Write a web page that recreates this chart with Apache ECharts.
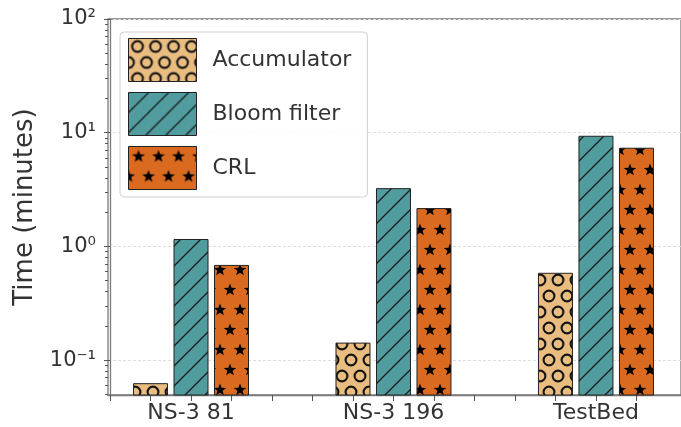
<!DOCTYPE html>
<html>
<head>
<meta charset="utf-8">
<script src="https://cdn.jsdelivr.net/npm/echarts@6/dist/echarts.min.js"></script>
<style>
html,body{margin:0;padding:0;background:#fff;}
#chart{width:681px;height:427px;}
</style>
</head>
<body>
<div id="chart"></div>
<script>
// ---- data ----
const categories = ['NS-3 81', 'NS-3 196', 'TestBed'];
const seriesNames = ['Accumulator', 'Bloom filter', 'CRL'];
const accumulator = [0.062, 0.141, 0.58];
const bloomFilter = [1.15, 3.22, 9.3];
const crl = [0.68, 2.15, 7.3];
const yTickValues = [0.1, 1, 10, 100];
const yMin = 0.0493, yMax = 100;

// ---- patterns ----
function tile(w, h, bg, draw) {
  const c = document.createElement('canvas');
  c.width = w; c.height = h;
  const ctx = c.getContext('2d');
  ctx.fillStyle = bg; ctx.fillRect(0, 0, w, h);
  draw(ctx, w, h);
  return c;
}
function ringTile(bg) {
  return tile(18, 32, bg, (ctx) => {
    ctx.strokeStyle = '#141414'; ctx.lineWidth = 2.1;
    [[9, 8], [0, 24], [18, 24]].forEach(([x, y]) => {
      ctx.beginPath(); ctx.arc(x, y, 5.4, 0, Math.PI * 2); ctx.stroke();
    });
  });
}
function hatchTile(bg) {
  return tile(20, 20, bg, (ctx, w, h) => {
    ctx.strokeStyle = '#1a1a1a'; ctx.lineWidth = 1.3;
    ctx.beginPath();
    ctx.moveTo(-2, h + 2); ctx.lineTo(w + 2, -2);
    ctx.moveTo(-2, 2); ctx.lineTo(2, -2);
    ctx.moveTo(w - 2, h + 2); ctx.lineTo(w + 2, h - 2);
    ctx.stroke();
  });
}
function starTile(bg) {
  return tile(20, 40, bg, (ctx) => {
    ctx.fillStyle = '#000';
    const R = 6.6, r = 2.7;
    [[10, 10], [0, 30], [20, 30]].forEach(([cx, cy]) => {
      ctx.beginPath();
      for (let i = 0; i < 10; i++) {
        const rad = i % 2 === 0 ? R : r;
        const a = -Math.PI / 2 + i * Math.PI / 5;
        const px = cx + rad * Math.cos(a), py = cy + rad * Math.sin(a);
        if (i === 0) ctx.moveTo(px, py); else ctx.lineTo(px, py);
      }
      ctx.closePath(); ctx.fill();
    });
  });
}
const fills = [
  { image: ringTile('#e9bc80'), repeat: 'repeat' },
  { image: hatchTile('#519c9f'), repeat: 'repeat' },
  { image: starTile('#da6a1f'), repeat: 'repeat' }
];

const values = [accumulator, bloomFilter, crl];
const minorTicks = [];
[0.01, 0.1, 1, 10].forEach(d => { for (let k = 2; k <= 9; k++) minorTicks.push(+(d * k).toPrecision(3)); });

const supMap = { '-': '\u207B', '0': '\u2070', '1': '\u00B9', '2': '\u00B2', '3': '\u00B3' };
function sup(n) { return String(n).split('').map(c => supMap[c] || c).join(''); }

const FONT = 'DejaVu Sans';
const BAR_W = 34;
const xPos = (gi, si) => gi * 5 + 1 + si;

// bars drawn from the axis minimum up to the value, through the axis scales
const series = seriesNames.map((name, si) => ({
  name, type: 'custom',
  itemStyle: { color: fills[si], borderColor: '#222', borderWidth: 1 },
  encode: { x: 0, y: 1 },
  data: values[si].map((v, gi) => [xPos(gi, si), v]),
  renderItem: (params, api) => {
    const x = api.value(0), v = api.value(1);
    const top = api.coord([x, v]);
    const bot = api.coord([x, yMin]);
    return {
      type: 'rect',
      shape: { x: top[0] - BAR_W / 2, y: top[1], width: BAR_W, height: bot[1] - top[1] },
      style: { fill: fills[si], stroke: '#222', lineWidth: 1 }
    };
  }
}));

const chart = echarts.init(document.getElementById('chart'), null, { renderer: 'canvas' });
chart.setOption({
  animation: false,
  backgroundColor: '#fff',
  textStyle: { fontFamily: FONT },
  grid: { left: 108, top: 19, width: 578, height: 376, show: true, borderColor: '#7a7a7a', borderWidth: 1.3, backgroundColor: 'transparent' },
  legend: {
    left: 120, top: 32, orient: 'vertical',
    icon: 'rect', itemWidth: 68, itemHeight: 43, itemGap: 10,
    padding: [6, 16, 7, 8],
    backgroundColor: 'rgba(255,255,255,0.85)', borderColor: '#d0d0d0', borderWidth: 1, borderRadius: 4,
    textStyle: { fontSize: 22, color: '#333', fontFamily: FONT, padding: [0, 0, 0, 11] },
    itemStyle: { borderColor: '#222', borderWidth: 1 },
    data: seriesNames
  },
  xAxis: {
    type: 'value', min: -0.05, max: 14.1,
    splitLine: { show: false },
    axisLine: { lineStyle: { color: '#7a7a7a', width: 1.3 } },
    axisTick: { show: true, length: 6, lineStyle: { color: '#555' }, customValues: [0,1,2,3,4,5,6,7,8,9,10,11,12,13] },
    axisLabel: {
      color: '#333', fontSize: 22, margin: 7, fontFamily: FONT,
      customValues: [2, 7, 12],
      formatter: v => categories[Math.round((v - 2) / 5)] || ''
    }
  },
  yAxis: [{
    type: 'log', logBase: 10, min: yMin, max: yMax,
    name: 'Time (minutes)', nameLocation: 'middle', nameGap: 70,
    nameTextStyle: { fontSize: 26, color: '#333', fontFamily: FONT },
    axisLine: { show: true, lineStyle: { color: '#7a7a7a', width: 1.3 } },
    axisTick: { show: true, length: 6, lineStyle: { color: '#555' }, customValues: yTickValues },
    axisLabel: {
      color: '#333', fontSize: 21, margin: 12, fontFamily: FONT,
      customValues: yTickValues,
      formatter: v => { const e = Math.log10(v); return Math.abs(e - Math.round(e)) < 1e-6 ? '10' + sup(Math.round(e)) : ''; }
    },
    splitLine: { show: true, lineStyle: { color: '#dedede', type: [3, 2], width: 1 } }
  }, {
    type: 'log', logBase: 10, min: yMin, max: yMax, position: 'left',
    axisLine: { show: false },
    axisLabel: { show: false },
    splitLine: { show: false },
    axisTick: { show: true, length: 3, lineStyle: { color: '#555' }, customValues: minorTicks }
  }],
  series
});
</script>
</body>
</html>
